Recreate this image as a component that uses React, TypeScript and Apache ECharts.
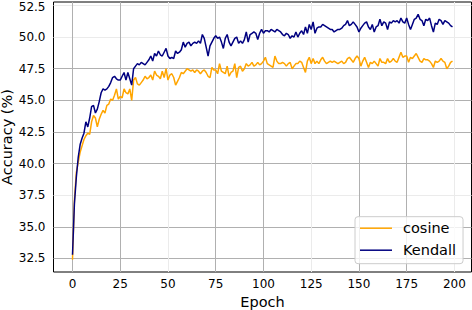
import React, { useEffect, useRef } from "react";
import * as echarts from "echarts";

const epochs: number[] = Array.from({ length: 200 }, (_, i) => i);

const cosine: number[] = [
  32.4, 37.1, 39.3, 40.1, 40.9, 41.4, 41.9, 42.2, 42.4, 42.3,
  43.3, 43.8, 43.6, 42.9, 43.5, 43.9, 44.2, 44.0, 44.6, 44.7,
  45.1, 45.0, 45.4, 45.9, 45.1, 45.3, 45.2, 45.9, 45.6, 45.5,
  45.9, 45.0, 46.6, 46.8, 46.3, 46.2, 46.4, 46.6, 46.9, 46.7,
  46.8, 47.0, 46.6, 47.3, 47.0, 46.9, 46.7, 47.3, 46.8, 47.5,
  46.6, 47.0, 47.1, 46.8, 46.2, 46.5, 46.8, 47.2, 47.1, 47.3,
  47.5, 47.4, 47.3, 47.4, 47.2, 47.4, 47.3, 47.1, 47.3, 47.4,
  47.2, 46.9, 46.8, 47.6, 47.4, 47.4, 47.1, 47.9, 47.3, 47.2,
  47.1, 47.7, 46.9, 47.2, 47.3, 47.9, 46.8, 47.6, 47.7, 47.3,
  47.5, 47.9, 47.7, 47.8, 48.0, 47.7, 47.8, 48.0, 47.8, 47.9,
  48.1, 48.4, 47.9, 47.8, 47.7, 47.6, 48.5, 48.1, 47.9, 47.9,
  48.0, 47.9, 47.7, 47.9, 48.0, 47.5, 47.7, 47.9, 47.9, 48.1,
  48.0, 47.6, 47.2, 48.1, 48.4, 47.9, 48.3, 47.9, 48.1, 47.9,
  48.2, 48.4, 48.1, 47.9, 48.0, 48.1, 48.0, 48.1, 48.0, 47.9,
  48.0, 48.1, 47.9, 48.0, 48.3, 48.4, 48.2, 48.0, 48.3, 48.5,
  48.3, 47.7, 48.1, 48.4, 48.0, 47.6, 48.0, 47.9, 48.1, 47.9,
  47.7, 48.3, 48.0, 48.0, 47.9, 48.3, 48.0, 48.1, 48.3, 48.1,
  48.0, 48.4, 48.8, 48.4, 48.5, 48.5, 48.0, 48.4, 48.3, 48.5,
  48.7, 48.4, 48.1, 48.0, 48.3, 48.2, 48.2, 48.1, 47.9, 47.6,
  48.1, 48.0, 48.1, 48.3, 48.1, 48.0, 47.5, 47.7, 48.0, 48.1,
];

const kendall: number[] = [
  32.8, 36.8, 38.9, 40.5, 41.5, 42.0, 42.4, 43.3, 42.9, 43.6,
  44.5, 44.6, 44.0, 44.3, 44.9, 45.6, 45.9, 45.8, 45.9, 46.1,
  46.4, 46.8, 46.9, 46.7, 46.6, 46.6, 46.9, 47.2, 46.6, 47.2,
  46.7, 46.2, 47.5, 47.7, 47.9, 47.8, 48.0, 47.9, 47.8, 48.0,
  48.2, 48.5, 48.1, 48.7, 48.5, 48.9, 48.6, 48.5, 48.8, 49.1,
  48.5, 48.3, 48.4, 48.3, 48.9, 48.7, 48.8, 49.0, 49.6, 49.2,
  49.5, 49.6, 49.3, 49.5, 49.6, 49.5, 49.7, 49.5, 50.2, 49.9,
  49.2, 48.5, 49.3, 49.6, 49.9, 50.1, 49.9, 50.0, 49.6, 49.1,
  49.9, 50.2, 49.6, 49.3, 49.6, 49.9, 50.0, 49.5, 49.7, 49.5,
  49.8, 50.4, 49.6, 50.2, 50.3, 50.4, 50.3, 49.8, 50.3, 50.6,
  50.3, 50.5, 50.5, 50.4, 50.6, 50.5, 50.4, 50.6, 50.5, 50.4,
  50.2, 50.1, 50.3, 50.2, 49.9, 50.1, 50.0, 50.4, 50.0, 50.3,
  50.5, 50.2, 50.8, 50.3, 51.0, 50.6, 51.2, 50.3, 50.7, 50.8,
  50.8, 51.0, 50.9, 50.8, 50.7, 50.6, 50.6, 50.4, 50.5, 50.6,
  50.6, 50.7, 50.9, 51.0, 51.3, 50.9, 51.0, 51.2, 51.0, 50.8,
  50.4, 50.7, 50.9, 51.1, 51.2, 50.8, 50.6, 51.0, 50.4, 50.8,
  50.9, 51.4, 50.9, 51.2, 51.1, 50.6, 51.2, 51.1, 51.3, 51.2,
  51.3, 51.1, 51.5, 51.2, 51.1, 51.5, 51.0, 50.6, 51.0, 51.4,
  51.5, 51.8, 51.4, 51.3, 50.9, 51.4, 51.3, 51.5, 50.9, 50.4,
  51.1, 51.0, 51.4, 51.3, 51.0, 51.3, 51.2, 51.1, 50.9, 50.8,
];

const xTicks: number[] = [0, 25, 50, 75, 100, 125, 150, 175, 200];
const yTicks: number[] = [32.5, 35, 37.5, 40, 42.5, 45, 47.5, 50, 52.5];

const FONT = "'DejaVu Sans', sans-serif";
const DARK = "#b0b0b0";
const LIGHT = "#ebebeb";

export default function App() {
  const ref = useRef<HTMLDivElement>(null);
  useEffect(() => {
    const chart = echarts.init(ref.current as HTMLDivElement, null, { renderer: "svg" });
    const topTick = yTicks[yTicks.length - 1];
    chart.setOption({
      animation: false,
      backgroundColor: "#ffffff",
      textStyle: { fontFamily: FONT },
      grid: {
        left: 53.5,
        top: 2,
        width: 418,
        height: 270,
        show: true,
        borderColor: "#000000",
        borderWidth: 1,
        backgroundColor: "transparent",
        containLabel: false,
        outerBoundsMode: "none",
      },
      xAxis: {
        type: "value",
        min: -9.95,
        max: 208.95,
        name: "Epoch",
        nameLocation: "middle",
        nameGap: 22,
        nameMoveOverlap: false,
        nameTextStyle: { fontSize: 14.5, color: "#000", fontFamily: FONT },
        axisLine: { show: false },
        axisTick: { show: false, customValues: xTicks },
        axisLabel: {
          customValues: xTicks,
          fontSize: 12,
          color: "#000",
          margin: 6,
          fontFamily: FONT,
          formatter: (v: number) => String(Math.round(v)),
        },
        splitLine: {
          show: true,
          lineStyle: { color: [DARK, DARK, LIGHT, DARK, DARK, LIGHT, DARK, DARK, LIGHT], width: 1 },
        },
      },
      yAxis: {
        type: "value",
        min: 31.43,
        max: 52.77,
        name: "Accuracy (%)",
        nameLocation: "middle",
        nameGap: 39,
        nameMoveOverlap: false,
        nameTextStyle: { fontSize: 14.5, color: "#000", fontFamily: FONT },
        axisLine: { show: false },
        axisTick: { show: false, customValues: yTicks },
        axisLabel: {
          customValues: yTicks,
          fontSize: 12,
          lineHeight: 10,
          color: "#000",
          margin: 8,
          fontFamily: FONT,
          formatter: (v: number) =>
            Math.abs(v - topTick) < 1e-6 ? "{top|" + v.toFixed(1) + "}" : v.toFixed(1),
          rich: {
            top: { fontSize: 12, lineHeight: 10, color: "#000", fontFamily: FONT, padding: [3, 0, 0, 0] },
          },
        },
        splitLine: {
          show: true,
          lineStyle: { color: [DARK, DARK, LIGHT, DARK, DARK, DARK, DARK, LIGHT, LIGHT], width: 1 },
        },
      },
      legend: {
        orient: "vertical",
        left: 355,
        top: 216.7,
        padding: [4, 7, 6, 5],
        itemGap: 7,
        itemWidth: 32,
        itemHeight: 1.5,
        icon: "rect",
        backgroundColor: "rgba(255,255,255,0.8)",
        borderColor: "#cccccc",
        borderWidth: 1,
        borderRadius: 3,
        textStyle: { fontSize: 14.5, color: "#000", fontFamily: FONT, padding: [0, 0, 0, 6] },
        data: ["cosine", "Kendall"],
      },
      series: [
        {
          type: "line",
          name: "cosine",
          data: epochs.map((e, i) => [e, cosine[i]]),
          showSymbol: false,
          symbol: "none",
          lineStyle: { color: "#ffa500", width: 1.5 },
          itemStyle: { color: "#ffa500" },
          z: 2,
        },
        {
          type: "line",
          name: "Kendall",
          data: epochs.map((e, i) => [e, kendall[i]]),
          showSymbol: false,
          symbol: "none",
          lineStyle: { color: "#000080", width: 1.5 },
          itemStyle: { color: "#000080" },
          z: 3,
        },
      ],
    });
    return () => chart.dispose();
  }, []);
  return (
    <div
      ref={ref}
      style={{ position: "fixed", left: 0, top: 0, width: 472, height: 310, background: "#fff" }}
    />
  );
}
